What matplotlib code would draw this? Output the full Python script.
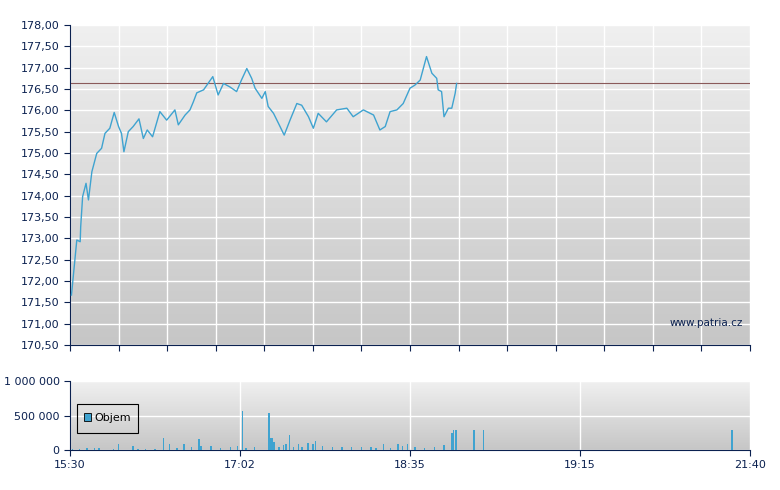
import numpy as np
import matplotlib.pyplot as plt
from matplotlib.patches import Rectangle

# time in grid units (0 = 15:30, 14 = 21:40)
t = [0.03, 0.10, 0.14, 0.21, 0.22, 0.26, 0.33, 0.38, 0.45, 0.55, 0.65, 0.72, 0.82, 0.91,
     1.00, 1.06, 1.11, 1.20, 1.30, 1.42, 1.51, 1.59, 1.70, 1.85, 1.99, 2.16, 2.23, 2.37,
     2.47, 2.54, 2.61, 2.75, 2.94, 3.05, 3.16, 3.29, 3.43, 3.53, 3.64, 3.74, 3.81, 3.95,
     4.02, 4.08, 4.19, 4.29, 4.41, 4.53, 4.67, 4.77, 4.91, 5.01, 5.11, 5.28, 5.49, 5.70,
     5.83, 6.04, 6.25, 6.38, 6.49, 6.59, 6.73, 6.86, 7.00, 7.10, 7.21, 7.34, 7.45, 7.55,
     7.58, 7.65, 7.70, 7.79, 7.86, 7.93, 7.96]
price = [171.67, 172.49, 172.96, 172.92, 173.27, 173.98, 174.29, 173.90, 174.56, 174.99,
         175.11, 175.46, 175.58, 175.95, 175.62, 175.46, 175.03, 175.50, 175.62, 175.80,
         175.34, 175.54, 175.38, 175.97, 175.77, 176.01, 175.66, 175.89, 176.01, 176.20,
         176.41, 176.48, 176.79, 176.36, 176.63, 176.55, 176.44, 176.71, 176.98, 176.75,
         176.52, 176.28, 176.44, 176.09, 175.93, 175.70, 175.42, 175.77, 176.16, 176.12,
         175.85, 175.58, 175.93, 175.73, 176.01, 176.05, 175.85, 176.01, 175.89, 175.54,
         175.62, 175.97, 176.01, 176.16, 176.52, 176.59, 176.71, 177.26, 176.87, 176.75,
         176.48, 176.44, 175.85, 176.05, 176.05, 176.40, 176.63]
ref_price = 176.63

vol_t = [0.05, 0.2, 0.35, 0.5, 0.6, 0.9, 1.0, 1.3, 1.4, 1.55, 1.75, 1.92, 2.05, 2.2, 2.35,
         2.5, 2.66, 2.7, 2.9, 3.1, 3.3, 3.45, 3.55, 3.62, 3.8, 4.10, 4.13, 4.16, 4.2, 4.3,
         4.4, 4.45, 4.52, 4.6, 4.7, 4.78, 4.9, 5.0, 5.05, 5.2, 5.4, 5.6, 5.8, 6.0, 6.2, 6.3,
         6.45, 6.6, 6.75, 6.85, 6.95, 7.1, 7.3, 7.5, 7.7, 7.86, 7.89, 7.95, 8.32, 8.51, 13.63]
vol = [20000, 15000, 30000, 25000, 30000, 15000, 90000, 60000, 20000, 15000, 20000, 170000,
       80000, 25000, 90000, 40000, 160000, 60000, 60000, 30000, 40000, 60000, 570000, 30000,
       40000, 530000, 170000, 170000, 120000, 40000, 70000, 90000, 220000, 50000, 90000,
       40000, 100000, 90000, 130000, 60000, 40000, 50000, 40000, 40000, 40000, 30000,
       90000, 30000, 90000, 60000, 90000, 50000, 30000, 40000, 70000, 250000, 290000,
       290000, 290000, 290000, 290000]

navy = '#0b2150'
blue = '#3fa3d0'
fig = plt.figure(figsize=(7.8, 4.9), dpi=100)
ax = fig.add_axes([70/780, 1-345/490, 680/780, 320/490])
av = fig.add_axes([70/780, 1-450/490, 680/780, 69/490])

grad = np.linspace(0, 1, 256).reshape(-1, 1)
for a in (ax, av):
    a.imshow(grad, aspect='auto', cmap=plt.matplotlib.colors.LinearSegmentedColormap.from_list(
        'g', ['#f0f0f0', '#c6c6c6']), extent=[0, 1, 0, 1], transform=a.transAxes, zorder=0)
    for s in ('top', 'right'):
        a.spines[s].set_visible(False)
    for s in ('left', 'bottom'):
        a.spines[s].set_color(navy)
    a.tick_params(colors=navy, labelcolor=navy, labelsize=8, length=4)
    a.set_xlim(0, 14)

ax.set_ylim(170.5, 178)
yt = np.arange(170.5, 178.01, 0.5)
ax.set_yticks(yt)
ax.set_yticklabels([f'{v:.2f}'.replace('.', ',') for v in yt])
ax.set_xticks(range(15))
ax.set_xticklabels([])
ax.grid(color='white', lw=1)
ax.set_axisbelow(True)
ax.axhline(ref_price, color='#8a5a5a', lw=0.8, zorder=2)
ax.plot(t, price, color=blue, lw=1, zorder=3)
ax.text(0.99, 0.06, 'www.patria.cz', transform=ax.transAxes, ha='right', fontsize=7.5, color=navy)

av.set_ylim(0, 1000000)
av.set_yticks([0, 500000, 1000000])
av.set_yticklabels(['0', '500 000', '1 000 000'])
av.set_xticks([0, 3.5, 7, 10.5, 14])
av.set_xticklabels(['15:30', '17:02', '18:35', '19:15', '21:40'])
av.grid(color='white', lw=1)
av.set_axisbelow(True)
av.bar(vol_t, vol, width=0.03, color=blue, zorder=3)
av.add_patch(Rectangle((0.01, 0.25), 0.09, 0.42, transform=av.transAxes, fill=False,
                       edgecolor='black', lw=0.8, zorder=4))
av.add_patch(Rectangle((0.02, 0.42), 0.011, 0.12, transform=av.transAxes, facecolor=blue,
                       edgecolor='black', lw=0.6, zorder=4))
av.text(0.036, 0.47, 'Objem', transform=av.transAxes, va='center', fontsize=8, zorder=4)

fig.savefig('out.png')
